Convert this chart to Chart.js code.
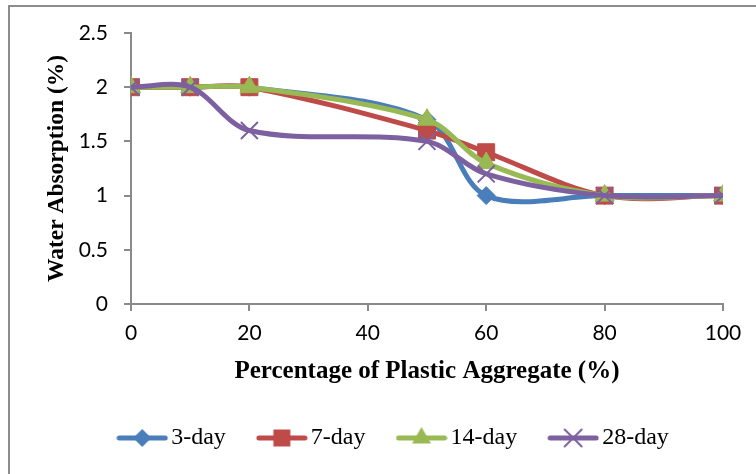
<!DOCTYPE html>
<html>
<head>
<meta charset="utf-8">
<script src="https://cdn.jsdelivr.net/npm/chart.js@4/dist/chart.umd.min.js"></script>
<style>
  html, body { margin: 0; padding: 0; background: #ffffff; }
  #wrap { position: relative; width: 756px; height: 474px; overflow: hidden; }
  #wrap canvas { position: absolute; left: 0; top: 0; }
  #frame { position: absolute; left: 8px; top: 5px; width: 800px; height: 520px;
           border-left: 2px solid #8c8c8c; border-top: 2px solid #8c8c8c; pointer-events: none; }
</style>
</head>
<body>
<div id="wrap">
  <canvas id="chart" width="756" height="474"></canvas>
  <div id="frame"></div>
</div>
<script>
// Plastic aggregate content (%) and water absorption (%) at each curing age
const plasticPct = [0, 10, 20, 50, 60, 80, 100];
const absorption3Day  = [2.0, 2.0, 2.0, 1.7, 1.0, 1.0, 1.0];
const absorption7Day  = [2.0, 2.0, 2.0, 1.6, 1.4, 1.0, 1.0];
const absorption14Day = [2.0, 2.0, 2.0, 1.7, 1.3, 1.0, 1.0];
const absorption28Day = [2.0, 2.0, 1.6, 1.5, 1.2, 1.0, 1.0];
const seriesNames = ['3-day', '7-day', '14-day', '28-day'];
const xTickValues = [0, 20, 40, 60, 80, 100];
const xTickLabels = ['0', '20', '40', '60', '80', '100'];
const yTickValues = [0, 0.5, 1, 1.5, 2, 2.5];
const yTickLabels = ['0', '0.5', '1', '1.5', '2', '2.5'];

const AXIS_GREY = '#8a8a8a';
const SERIF = '"Liberation Serif", "Times New Roman", serif';
const SANS = 'Lato, "Open Sans", sans-serif';

const seriesStyle = [
  { color: '#4A7EBB', marker: 'rectRot',  radius: 9,  order: 3 },
  { color: '#BE4B48', marker: 'rect',     radius: 12, order: 2 },
  { color: '#98B954', marker: 'triangle', radius: 11, order: 1 },
  { color: '#7D60A0', marker: 'crossRot', radius: 12, order: 0 }
];
const seriesValues = [absorption3Day, absorption7Day, absorption14Day, absorption28Day];

function toPoints(values) {
  return plasticPct.map((x, i) => ({ x: x, y: values[i] }));
}

function labelFor(values, labels) {
  return v => {
    const i = values.indexOf(v);
    return i >= 0 ? labels[i] : '';
  };
}

// Small marker painter used for the legend swatches
function paintMarker(ctx, type, x, y, r, color) {
  ctx.save();
  ctx.fillStyle = color;
  ctx.strokeStyle = color;
  ctx.beginPath();
  if (type === 'rect') {
    const s = Math.SQRT1_2 * r;
    ctx.rect(x - s, y - s, 2 * s, 2 * s);
    ctx.fill();
  } else if (type === 'rectRot') {
    ctx.moveTo(x, y - r); ctx.lineTo(x + r, y); ctx.lineTo(x, y + r); ctx.lineTo(x - r, y);
    ctx.closePath(); ctx.fill();
  } else if (type === 'triangle') {
    ctx.moveTo(x, y - r);
    ctx.lineTo(x + r * Math.cos(Math.PI / 6), y + r / 2);
    ctx.lineTo(x - r * Math.cos(Math.PI / 6), y + r / 2);
    ctx.closePath(); ctx.fill();
  } else if (type === 'crossRot') {
    const d = Math.SQRT1_2 * r;
    ctx.lineWidth = 2;
    ctx.moveTo(x - d, y - d); ctx.lineTo(x + d, y + d);
    ctx.moveTo(x + d, y - d); ctx.lineTo(x - d, y + d);
    ctx.stroke();
  }
  ctx.restore();
}

const SWATCH_W = 52, SWATCH_H = 26, LEGEND_BOX = 34, LEGEND_FONT = 24;
function legendSwatch(style) {
  const c = document.createElement('canvas');
  c.width = SWATCH_W; c.height = SWATCH_H;
  const ctx = c.getContext('2d');
  ctx.strokeStyle = style.color;
  ctx.lineWidth = 5;
  ctx.lineCap = 'round';
  ctx.beginPath();
  ctx.moveTo(3, SWATCH_H / 2);
  ctx.lineTo(SWATCH_W - 3, SWATCH_H / 2);
  ctx.stroke();
  paintMarker(ctx, style.marker, SWATCH_W / 2, SWATCH_H / 2, style.radius, style.color);
  return c;
}

const datasets = seriesNames.map((name, i) => {
  const st = seriesStyle[i];
  return {
    label: name,
    data: toPoints(seriesValues[i]),
    borderColor: st.color,
    backgroundColor: st.color,
    borderWidth: 5,
    borderCapStyle: 'round',
    borderJoinStyle: 'round',
    tension: 0.33,
    pointStyle: st.marker,
    pointRadius: st.radius,
    pointHoverRadius: st.radius,
    pointBackgroundColor: st.color,
    pointBorderColor: st.color,
    pointBorderWidth: st.marker === 'crossRot' ? 2 : 1,
    order: st.order,
    fill: false
  };
});

new Chart(document.getElementById('chart'), {
  type: 'line',
  data: { datasets: datasets },
  options: {
    responsive: false,
    animation: false,
    devicePixelRatio: 1,
    layout: { padding: { left: 40, right: 2, top: 33, bottom: 14 } },
    plugins: {
      tooltip: { enabled: false },
      legend: {
        position: 'bottom',
        labels: {
          usePointStyle: true,
          pointStyleWidth: LEGEND_BOX,
          padding: 39,
          color: '#000',
          font: { family: SERIF, size: LEGEND_FONT },
          generateLabels: chart => chart.data.datasets.map((ds, i) => ({
            text: ds.label,
            pointStyle: legendSwatch(seriesStyle[i]),
            fillStyle: ds.borderColor,
            strokeStyle: ds.borderColor,
            lineWidth: 0,
            fontColor: '#000',
            hidden: !chart.isDatasetVisible(i),
            datasetIndex: i
          }))
        }
      }
    },
    scales: {
      x: {
        type: 'linear',
        min: 0, max: 100,
        afterBuildTicks: s => { s.ticks = xTickValues.map(v => ({ value: v })); },
        afterFit: s => { s.height = 83; s.paddingRight = 33; },
        grid: { drawOnChartArea: false, drawTicks: true, tickLength: 7, color: AXIS_GREY, lineWidth: 2 },
        border: { color: AXIS_GREY, width: 2 },
        ticks: { padding: 10, color: '#000', font: { family: SANS, size: 21 }, maxRotation: 0,
                 callback: labelFor(xTickValues, xTickLabels) },
        title: {
          display: true,
          text: 'Percentage of Plastic Aggregate (%)',
          color: '#000',
          font: { family: SERIF, size: 25, weight: 'bold' },
          padding: { top: 0, bottom: 0 }
        }
      },
      y: {
        min: 0, max: 2.5,
        afterBuildTicks: s => { s.ticks = yTickValues.map(v => ({ value: v })); },
        afterFit: s => { s.width = 91; s.paddingTop = 0; s.paddingBottom = 0; },
        grid: { drawOnChartArea: false, drawTicks: true, tickLength: 7, color: AXIS_GREY, lineWidth: 2 },
        border: { color: AXIS_GREY, width: 2 },
        ticks: { padding: 16, color: '#000', font: { family: SANS, size: 21 },
                 callback: labelFor(yTickValues, yTickLabels) },
        title: {
          display: true,
          text: 'Water Absorption (%)',
          color: '#000',
          font: { family: SERIF, size: 23.5, weight: 'bold' },
          padding: { top: 3, bottom: 0 }
        }
      }
    }
  }
});
</script>
</body>
</html>
